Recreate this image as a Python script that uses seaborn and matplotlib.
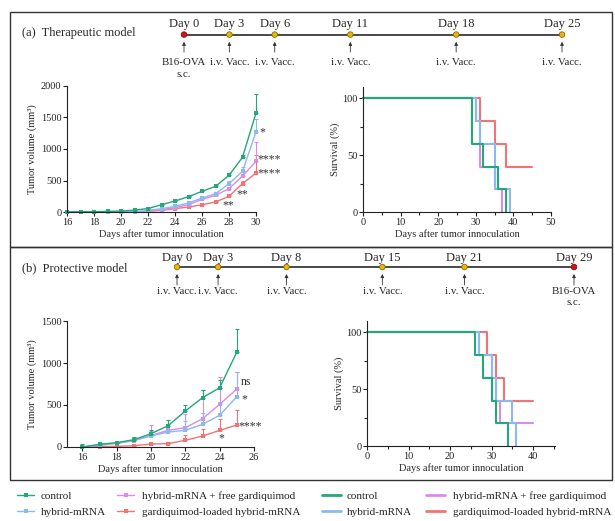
import matplotlib
matplotlib.use('Agg')
import matplotlib.pyplot as plt
import seaborn as sns
import pandas as pd
from matplotlib.lines import Line2D
from matplotlib.patches import Rectangle
from matplotlib.ticker import MultipleLocator

sns.set_style('ticks')
plt.rcParams['font.family'] = ['Liberation Serif', 'DejaVu Serif']
plt.rcParams['axes.edgecolor'] = '#222222'
plt.rcParams['xtick.color'] = '#222222'
plt.rcParams['ytick.color'] = '#222222'

# groups and colours
groups = ['control', 'hybrid-mRNA', 'hybrid-mRNA + free gardiquimod', 'gardiquimod-loaded hybrid-mRNA']
colors = ['#23a877', '#8cb9ee', '#d98be9', '#f07474']

# treatment schedules
sched_a_days = [0, 3, 6, 11, 18, 25]
sched_a_events = ['B16-OVA\ns.c.', 'i.v. Vacc.', 'i.v. Vacc.', 'i.v. Vacc.', 'i.v. Vacc.', 'i.v. Vacc.']
sched_b_days = [0, 3, 8, 15, 21, 29]
sched_b_events = ['i.v. Vacc.', 'i.v. Vacc.', 'i.v. Vacc.', 'i.v. Vacc.', 'i.v. Vacc.', 'B16-OVA\ns.c.']

# (a) therapeutic model - tumor volume, days 16..30
tv_a_days = list(range(16, 31))
tv_a_control = [0, 2, 5, 10, 15, 30, 55, 115, 175, 243, 328, 407, 582, 868, 1571]
tv_a_control_err = [0, 0, 0, 2, 3, 5, 8, 10, 12, 15, 15, 20, 30, 40, 305]
tv_a_hybrid = [0, 0, 0, 0, 1, 2, 26, 53, 90, 143, 222, 290, 450, 645, 1270]
tv_a_hybrid_err = [0, 0, 0, 0, 0, 2, 5, 8, 10, 15, 20, 25, 40, 70, 200]
tv_a_free = [0, 0, 0, 0, 0, 1, 16, 37, 69, 116, 200, 265, 370, 571, 804]
tv_a_free_err = [0, 0, 0, 0, 0, 1, 4, 6, 8, 12, 15, 20, 30, 60, 307]
tv_a_loaded = [0, 0, 0, 0, 0, 0, 10, 26, 53, 79, 116, 159, 249, 450, 619]
tv_a_loaded_err = [0, 0, 0, 0, 0, 0, 3, 5, 8, 10, 12, 15, 25, 40, 281]

# (b) protective model - tumor volume, days 16..25
tv_b_days = list(range(16, 26))
tv_b_control = [0, 32, 52, 87, 159, 254, 429, 587, 706, 1131]
tv_b_control_err = [30, 10, 12, 30, 40, 63, 67, 88, 88, 278]
tv_b_hybrid = [0, 25, 45, 79, 131, 179, 198, 270, 377, 600]
tv_b_hybrid_err = [20, 10, 12, 30, 60, 90, 110, 130, 150, 290]
tv_b_free = [0, 20, 45, 75, 139, 198, 230, 337, 508, 690]
tv_b_free_err = [15, 10, 12, 40, 119, 119, 167, 338, 325, 200]
tv_b_loaded = [0, 5, 8, 15, 35, 40, 80, 131, 198, 262]
tv_b_loaded_err = [5, 5, 5, 10, 15, 20, 59, 87, 139, 175]

# survival (event days, % alive after each step)
surv_a_t = {
    'control': [0, 29, 32, 36, 38],
    'hybrid-mRNA': [0, 30, 31, 35, 39],
    'hybrid-mRNA + free gardiquimod': [0, 30, 31, 35, 37],
    'gardiquimod-loaded hybrid-mRNA': [0, 31, 35, 38, 45],
}
surv_a_s = {
    'control': [100, 60, 40, 20, 0],
    'hybrid-mRNA': [100, 80, 60, 20, 0],
    'hybrid-mRNA + free gardiquimod': [100, 80, 40, 20, 0],
    'gardiquimod-loaded hybrid-mRNA': [100, 80, 60, 40, 40],
}
surv_b_t = {
    'control': [0, 26, 28, 30, 31, 34],
    'hybrid-mRNA': [0, 27, 30, 31, 35, 36],
    'hybrid-mRNA + free gardiquimod': [0, 27, 30, 31, 32, 40],
    'gardiquimod-loaded hybrid-mRNA': [0, 29, 31, 33, 40],
}
surv_b_s = {
    'control': [100, 80, 60, 40, 20, 0],
    'hybrid-mRNA': [100, 80, 60, 40, 20, 0],
    'hybrid-mRNA + free gardiquimod': [100, 80, 60, 40, 20, 20],
    'gardiquimod-loaded hybrid-mRNA': [100, 80, 60, 40, 40],
}

# significance marks (x, y, text)
sig_a = [(30.5, 1265, '*'), (31.0, 830, '****'), (31.0, 615, '****'), (29.0, 280, '**'), (27.95, 110, '**')]
sig_b = [(25.55, 775, 'ns'), (25.45, 570, '*'), (25.8, 240, '****'), (24.07, 100, '*')]

W, H = 615, 521
fig = plt.figure(figsize=(W / 100, H / 100), dpi=100)


def ax_px(x0, y0, x1, y1):
    return fig.add_axes([x0 / W, 1 - y1 / H, (x1 - x0) / W, (y1 - y0) / H])


def style(ax, ylab_x):
    sns.despine(ax=ax)
    ax.tick_params(labelsize=7.5, length=3, width=0.8, pad=1)
    ax.tick_params(which='minor', length=2, width=0.8)
    for s in ['left', 'bottom']:
        ax.spines[s].set_linewidth(0.8)
    ax.set_facecolor('none')
    ax.yaxis.set_label_coords(ylab_x, 0.5)


def timeline(ax, days, events, y_day, y_line, y_arr0, y_arr1, y_lab):
    ax.set_ylim(y_lab + 25, y_day - 10)
    ax.set_xlim(days[0], days[-1])
    ax.axis('off')
    ax.plot(days, [y_line] * len(days), color='#3a3a3a', lw=1.3, zorder=1)
    dot_cols = ['#d3141c' if 'B16' in e else '#e9b40c' for e in events]
    edge_cols = ['#8a0a0a' if 'B16' in e else '#8c6a00' for e in events]
    ax.scatter(days, [y_line] * len(days), s=16, c=dot_cols, edgecolors=edge_cols, linewidths=0.6,
               zorder=3, clip_on=False)
    for d, e in zip(days, events):
        ax.text(d, y_day, f'Day {d}', ha='center', va='center', fontsize=9)
        ax.annotate('', xy=(d, y_arr1), xytext=(d, y_arr0),
                    arrowprops=dict(arrowstyle='-|>', color='#333333', lw=0.6, mutation_scale=5,
                                    shrinkA=0, shrinkB=0))
        ax.text(d, y_lab, e, ha='center', va='top', fontsize=7.8, linespacing=1.35)


def tumor(ax, days, series, errs):
    for name, col, y, e in list(zip(groups, colors, series, errs))[::-1]:
        ax.errorbar(days, y, yerr=[[0] * len(e), e], fmt='none', ecolor=col, elinewidth=0.8,
                    capsize=1.5, capthick=0.8, clip_on=False)
        df = pd.DataFrame({'day': days, 'volume': y})
        sns.lineplot(data=df, x='day', y='volume', ax=ax, color=col, lw=1, marker='s',
                     markersize=3.2, markeredgewidth=0, estimator=None, clip_on=False)
    ax.set_xlabel('Days after tumor innoculation', fontsize=7.5, labelpad=2)
    ax.set_ylabel('Tumor volume (mm³)', fontsize=7.5)
    style(ax, -0.16)


def survival(ax, tdict, sdict):
    for name, col in list(zip(groups, colors))[::-1]:
        df = pd.DataFrame({'t': tdict[name], 's': sdict[name]})
        sns.lineplot(data=df, x='t', y='s', ax=ax, color=col, lw=1.5, drawstyle='steps-post',
                     estimator=None, sort=False, clip_on=False)
    ax.set_ylim(0, 110)
    ax.set_yticks([0, 50, 100])
    ax.yaxis.set_minor_locator(MultipleLocator(25))
    ax.xaxis.set_minor_locator(MultipleLocator(5))
    ax.set_xlabel('Days after tumor innoculation', fontsize=7.5, labelpad=2)
    ax.set_ylabel('Survival (%)', fontsize=7.5)
    style(ax, -0.125)


# panel frames
for y0, y1 in [(12, 247), (247, 480)]:
    fig.patches.append(Rectangle((10 / W, 1 - y1 / H), 602 / W, (y1 - y0) / H, transform=fig.transFigure,
                                 fill=False, ec='#333333', lw=1.0))
fig.text(22 / W, 1 - 33 / H, '(a)  Therapeutic model', fontsize=9, va='center')
fig.text(22 / W, 1 - 268 / H, '(b)  Protective model', fontsize=9, va='center')

# timelines
tl_a = ax_px(184, 14, 562, 84)
timeline(tl_a, sched_a_days, sched_a_events, 24, 34, 51, 41, 57)
tl_b = ax_px(177, 248, 574, 312)
timeline(tl_b, sched_b_days, sched_b_events, 258, 267, 285, 274, 287)

# (a) tumor volume
ax1 = ax_px(67, 86, 256, 212)
tumor(ax1, tv_a_days, [tv_a_control, tv_a_hybrid, tv_a_free, tv_a_loaded],
      [tv_a_control_err, tv_a_hybrid_err, tv_a_free_err, tv_a_loaded_err])
ax1.set_xlim(16, 30)
ax1.set_ylim(0, 2000)
ax1.set_xticks(range(16, 31, 2))
ax1.set_yticks(range(0, 2001, 500))
for x, y, t in sig_a:
    ax1.text(x, y, t, ha='center', va='center', fontsize=8.5, color='#333333', clip_on=False)

# (a) survival
ax2 = ax_px(363, 87, 551, 212)
survival(ax2, surv_a_t, surv_a_s)
ax2.set_xlim(0, 50)
ax2.set_xticks(range(0, 51, 10))

# (b) tumor volume
ax3 = ax_px(67, 321, 254, 447)
tumor(ax3, tv_b_days, [tv_b_control, tv_b_hybrid, tv_b_free, tv_b_loaded],
      [tv_b_control_err, tv_b_hybrid_err, tv_b_free_err, tv_b_loaded_err])
ax3.set_xlim(15.1, 26)
ax3.set_ylim(0, 1500)
ax3.set_xticks(range(16, 27, 2))
ax3.set_yticks([0, 500, 1000, 1500])
for x, y, t in sig_b:
    ax3.text(x, y, t, ha='center', va='center', fontsize=8.5, color='#333333', clip_on=False)

# (b) survival
ax4 = ax_px(367, 321, 555, 446)
survival(ax4, surv_b_t, surv_b_s)
ax4.set_xlim(0, 45.3)
ax4.set_xticks(range(0, 41, 10))

# legends, one column each
h_tv = [Line2D([], [], color=c, lw=1, marker='s', markersize=2.5, markeredgewidth=0) for c in colors]
h_sv = [Line2D([], [], color=c, lw=2) for c in colors]
fs = 8
em = fs * 100 / 72
for x0, hl, pad, hs, ix in [(17, 17, 7, h_tv, [0, 1]), (117, 17, 8, h_tv, [2, 3]),
                            (322, 19, 6, h_sv, [0, 1]), (426, 19, 8, h_sv, [2, 3])]:
    fig.legend([hs[i] for i in ix], [groups[i] for i in ix], loc='upper left',
               bbox_to_anchor=(x0 / W, 1 - 491 / H), frameon=False, fontsize=fs,
               handlelength=hl / em, handletextpad=pad / em, labelspacing=0.6,
               borderpad=0, borderaxespad=0)

fig.savefig('out.png', dpi=100)
